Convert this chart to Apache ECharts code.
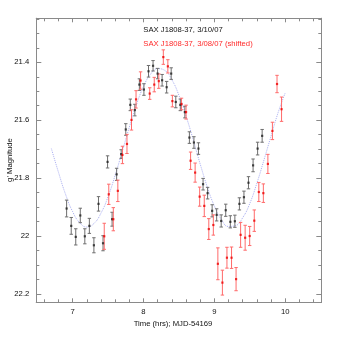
<!DOCTYPE html>
<html>
<head>
<meta charset="utf-8">
<script src="https://cdn.jsdelivr.net/npm/echarts@6/dist/echarts.min.js"></script>
<style>
  html, body { margin: 0; padding: 0; background: #fff; }
  #chart { width: 339px; height: 339px; }
</style>
</head>
<body>
<div id="chart"></div>
<script>
// 3/10/07 light curve (black)
var blackTime = [6.915, 6.980, 7.044, 7.108, 7.172, 7.236, 7.300, 7.365, 7.429, 7.493, 7.557,
  7.621, 7.685, 7.750, 7.814, 7.878, 7.942, 8.006, 8.071, 8.135, 8.199, 8.263, 8.327, 8.391,
  8.456, 8.520, 8.584, 8.648, 8.712, 8.776, 8.841, 8.905, 8.969, 9.033, 9.097, 9.161, 9.226,
  9.290, 9.354, 9.418, 9.482, 9.547, 9.611, 9.675];
var blackMag = [21.905, 21.965, 22.003, 21.929, 22.001, 21.965, 22.032, 21.889, 22.025, 21.744,
  21.942, 21.787, 21.717, 21.632, 21.547, 21.565, 21.477, 21.494, 21.431, 21.412, 21.439, 21.462,
  21.486, 21.439, 21.537, 21.547, 21.572, 21.660, 21.677, 21.698, 21.821, 21.852, 21.913, 21.927,
  21.948, 21.911, 21.951, 21.949, 21.889, 21.866, 21.816, 21.756, 21.698, 21.654];
var blackErr = [0.029, 0.029, 0.028, 0.025, 0.026, 0.026, 0.026, 0.025, 0.026, 0.021, 0.024,
  0.021, 0.015, 0.02, 0.02, 0.02, 0.02, 0.02, 0.02, 0.018, 0.018, 0.02, 0.02, 0.02, 0.02, 0.02,
  0.02, 0.02, 0.02, 0.02, 0.02, 0.02, 0.021, 0.021, 0.021, 0.021, 0.021, 0.021, 0.021, 0.021,
  0.021, 0.022, 0.022, 0.022];

// 3/08/07 light curve, shifted (red)
var redTime = [7.446, 7.510, 7.574, 7.638, 7.703, 7.767, 7.831, 7.895, 7.959, 8.088, 8.152,
  8.216, 8.280, 8.344, 8.408, 8.537, 8.601, 8.665, 8.729, 8.793, 8.858, 8.922, 8.986, 9.050,
  9.114, 9.178, 9.243, 9.307, 9.371, 9.435, 9.499, 9.564, 9.628, 9.692, 9.756, 9.820, 9.885, 9.949];
var redMag = [22.001, 21.856, 21.942, 21.844, 21.720, 21.682, 21.599, 21.528, 21.463, 21.508,
  21.477, 21.465, 21.382, 21.414, 21.534, 21.544, 21.572, 21.740, 21.781, 21.864, 21.896, 21.976,
  21.962, 22.096, 22.161, 22.075, 22.075, 22.149, 21.996, 22.006, 22.000, 21.947, 21.848, 21.852,
  21.751, 21.637, 21.475, 21.562];
var redErr = [0.045, 0.035, 0.04, 0.037, 0.03, 0.033, 0.035, 0.03, 0.03, 0.02, 0.025, 0.025,
  0.025, 0.023, 0.02, 0.02, 0.024, 0.03, 0.033, 0.033, 0.037, 0.036, 0.035, 0.055, 0.043, 0.036,
  0.037, 0.04, 0.043, 0.043, 0.033, 0.037, 0.033, 0.032, 0.033, 0.03, 0.03, 0.042];

// dotted fit curve
var fitTime = [6.7, 6.8, 6.9, 7.0, 7.1, 7.2, 7.3, 7.4, 7.5, 7.6, 7.7, 7.8, 7.9, 8.0, 8.1, 8.2,
  8.3, 8.4, 8.5, 8.6, 8.7, 8.8, 8.9, 9.0, 9.1, 9.2, 9.3, 9.4, 9.5, 9.6, 9.7, 9.8, 9.9, 10.0];
var fitMag = [21.698, 21.780, 21.856, 21.916, 21.954, 21.969, 21.957, 21.921, 21.864, 21.790,
  21.708, 21.624, 21.547, 21.484, 21.441, 21.422, 21.428, 21.460, 21.514, 21.585, 21.666, 21.751,
  21.830, 21.896, 21.943, 21.967, 21.964, 21.937, 21.888, 21.818, 21.738, 21.655, 21.574, 21.506];

// axis ticks
var xMajor = [7, 8, 9, 10];
var xMinor = [6.6, 6.8, 7.2, 7.4, 7.6, 7.8, 8.2, 8.4, 8.6, 8.8, 9.2, 9.4, 9.6, 9.8, 10.2, 10.4];
var yMajor = [21.4, 21.6, 21.8, 22, 22.2];
var yMinor = [21.25, 21.3, 21.35, 21.45, 21.5, 21.55, 21.65, 21.7, 21.75, 21.85, 21.9, 21.95,
  22.05, 22.1, 22.15];

var X_MIN = 6.487, X_MAX = 10.51, Y_MIN = 21.248, Y_MAX = 22.229;
var FONT = '"Liberation Sans", Arial, sans-serif';

function zip3(a, b, c) {
  return a.map(function (v, i) { return [v, b[i], c[i]]; });
}

function errBars(color) {
  return function (params, api) {
    var x = api.value(0), y = api.value(1), e = api.value(2);
    var p1 = api.coord([x, y - e]);
    var p2 = api.coord([x, y + e]);
    var c = 1.7;
    var st = { stroke: color, lineWidth: 1 };
    return {
      type: 'group',
      children: [
        { type: 'line', shape: { x1: p1[0], y1: p1[1], x2: p2[0], y2: p2[1] }, style: st },
        { type: 'line', shape: { x1: p1[0] - c, y1: p1[1], x2: p1[0] + c, y2: p1[1] }, style: st },
        { type: 'line', shape: { x1: p2[0] - c, y1: p2[1], x2: p2[0] + c, y2: p2[1] }, style: st }
      ]
    };
  };
}

function xAx(pos, ticks, len, labels) {
  return {
    type: 'value', position: pos, min: X_MIN, max: X_MAX,
    axisLine: { show: true, onZero: false, lineStyle: { color: '#8a8a8a', width: 1 } },
    axisTick: { show: true, inside: true, length: len, customValues: ticks,
      lineStyle: { color: '#8a8a8a', width: 1 } },
    axisLabel: labels ? { show: true, customValues: ticks, margin: 6, color: '#111',
      fontSize: 7.7, fontFamily: FONT } : { show: false },
    splitLine: { show: false }
  };
}

function yAx(pos, ticks, len, labels) {
  return {
    type: 'value', position: pos, min: Y_MIN, max: Y_MAX, inverse: true,
    axisLine: { show: true, onZero: false, lineStyle: { color: '#8a8a8a', width: 1 } },
    axisTick: { show: true, inside: true, length: len, customValues: ticks,
      lineStyle: { color: '#8a8a8a', width: 1 } },
    axisLabel: labels ? { show: true, customValues: ticks, margin: 7, color: '#111',
      fontSize: 7.7, fontFamily: FONT,
      formatter: function (v) { return String(Math.round(v * 10) / 10); } } : { show: false },
    splitLine: { show: false }
  };
}

var chart = echarts.init(document.getElementById('chart'));
var option = {
  animation: false,
  backgroundColor: '#fff',
  grid: { left: 36.3, right: 17.7, top: 18.3, bottom: 36.7 },
  xAxis: [
    xAx('bottom', xMajor, 4, true),
    xAx('bottom', xMinor, 3, false),
    xAx('top', xMajor, 4, false),
    xAx('top', xMinor, 3, false)
  ],
  yAxis: [
    yAx('left', yMajor, 5, true),
    yAx('left', yMinor, 3, false),
    yAx('right', yMajor, 5, false),
    yAx('right', yMinor, 3, false)
  ],
  graphic: [
    { type: 'text', x: 143.3, y: 30, style: { text: 'SAX J1808-37, 3/10/07', fill: '#111',
      font: '7.7px ' + FONT, textVerticalAlign: 'middle' } },
    { type: 'text', x: 143.3, y: 44.3, style: { text: 'SAX J1808-37, 3/08/07 (shifted)', fill: '#ff2a2a',
      font: '7.7px ' + FONT, textVerticalAlign: 'middle' } },
    { type: 'text', x: 173, y: 323.5, style: { text: 'Time (hrs); MJD-54169', fill: '#111',
      font: '7.7px ' + FONT, textAlign: 'center', textVerticalAlign: 'middle' } },
    { type: 'text', x: 10, y: 160, rotation: Math.PI / 2, style: { text: "g' Magnitude", fill: '#111',
      font: '7.7px ' + FONT, textAlign: 'center', textVerticalAlign: 'middle' } }
  ],
  series: [
    {
      name: 'fit', type: 'line', smooth: true, showSymbol: false, silent: true,
      data: fitTime.map(function (t, i) { return [t, fitMag[i]]; }),
      lineStyle: { color: '#a9aef2', width: 1, type: 'dotted' },
      z: 1
    },
    {
      name: '3/10/07 err', type: 'custom', renderItem: errBars('#6e6e6e'),
      data: zip3(blackTime, blackMag, blackErr), encode: { x: 0, y: 1 }, z: 2
    },
    {
      name: '3/08/07 err', type: 'custom', renderItem: errBars('#ff6a6a'),
      data: zip3(redTime, redMag, redErr), encode: { x: 0, y: 1 }, z: 3
    },
    {
      name: 'SAX J1808-37, 3/10/07', type: 'scatter', symbol: 'rect', symbolSize: 2.2,
      data: blackTime.map(function (t, i) { return [t, blackMag[i]]; }),
      itemStyle: { color: '#222' }, z: 4
    },
    {
      name: 'SAX J1808-37, 3/08/07 (shifted)', type: 'scatter', symbol: 'rect', symbolSize: 2.2,
      data: redTime.map(function (t, i) { return [t, redMag[i]]; }),
      itemStyle: { color: '#ee0000' }, z: 5
    }
  ]
};
chart.setOption(option);
window.addEventListener('resize', function () {
  chart.resize();
});
</script>
</body>
</html>
